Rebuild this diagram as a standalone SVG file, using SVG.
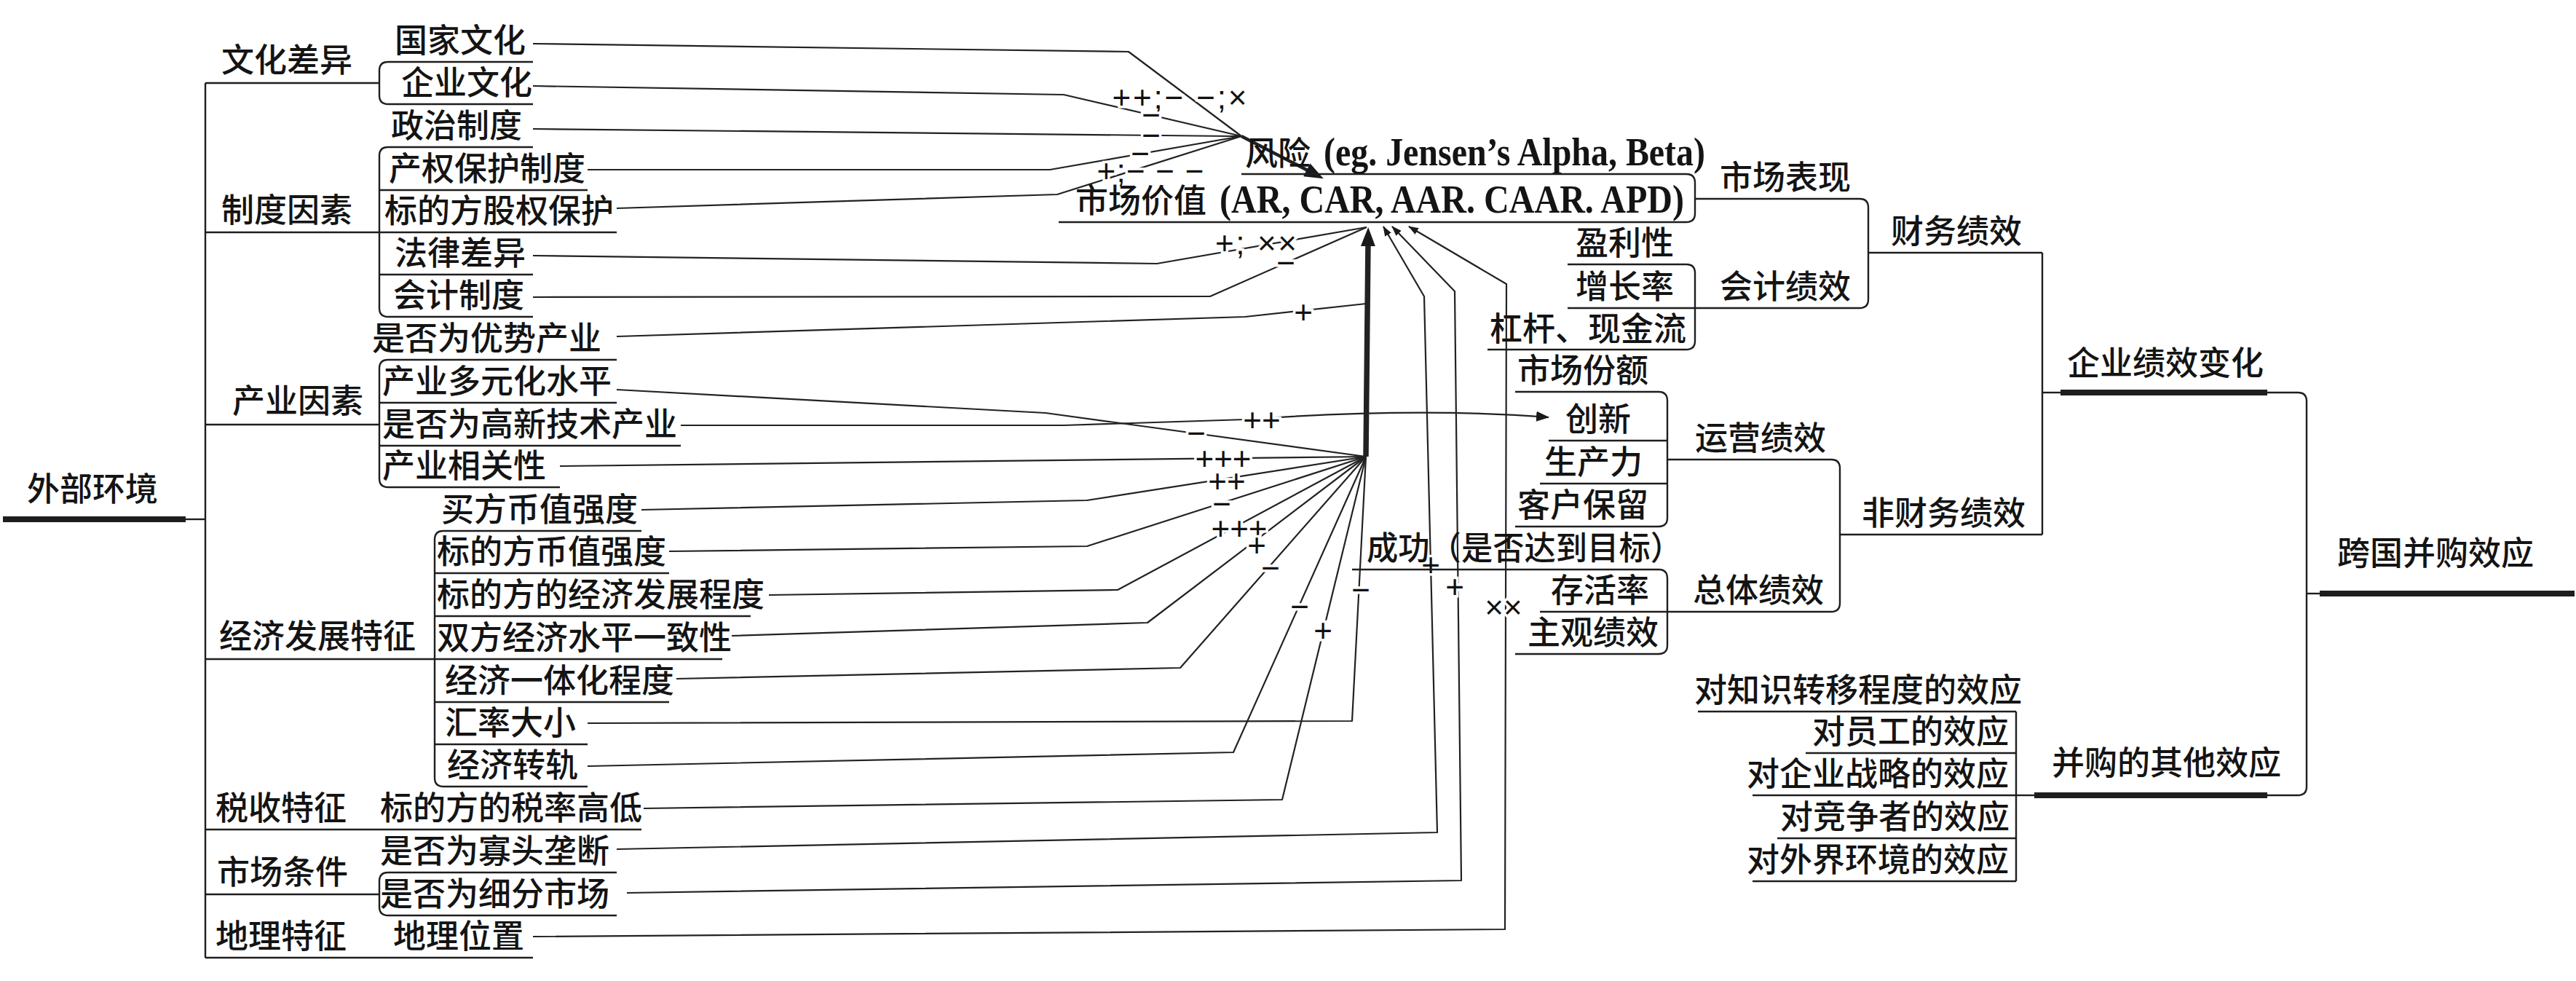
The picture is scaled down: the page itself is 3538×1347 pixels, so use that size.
<svg xmlns="http://www.w3.org/2000/svg" width="3538" height="1347" viewBox="0 0 3538 1347">
<style>
.t{font-family:"Noto Sans CJK SC","Noto Sans",sans-serif;font-size:45px;font-weight:500;fill:#141414}
.lat{font-family:"Liberation Serif","Noto Sans CJK SC",serif;font-weight:bold;font-size:54px;fill:#141414}
.ln{stroke:#1e1e1e;stroke-width:2.4;fill:none}
.thk{stroke:#1e1e1e;stroke-width:8;fill:none}
.c{stroke:#222;stroke-width:2.2;fill:none;stroke-linejoin:round}
.lbl{font-family:"Liberation Sans",sans-serif;font-size:44px;fill:#111;stroke:#fff;stroke-width:7;paint-order:stroke;text-anchor:middle}
</style>
<defs>
<marker id="arr" markerUnits="userSpaceOnUse" markerWidth="18" markerHeight="14" refX="17" refY="7" orient="auto"><path d="M0,0 L18,7 L0,14 z" fill="#1a1a1a"/></marker>
<marker id="arrS" markerUnits="userSpaceOnUse" markerWidth="14" markerHeight="10" refX="13" refY="5" orient="auto"><path d="M0,0 L14,5 L0,10 z" fill="#1a1a1a"/></marker>
<marker id="arrB" markerUnits="userSpaceOnUse" markerWidth="26" markerHeight="20" refX="6" refY="10" orient="auto"><path d="M0,0 L26,10 L0,20 z" fill="#1a1a1a"/></marker>
</defs>
<rect width="3538" height="1347" fill="#fff"/>

<g id="connectors">
<path class="c" d="M732,60 L1550,71 L1705,187"/>
<path class="c" d="M732,118 L1461,130 L1705,187"/>
<path class="c" d="M732,177 L1690,187 L1705,187"/>
<path class="c" d="M807,233 L1442,233 L1705,187"/>
<path class="c" d="M847,286 L1452,267 L1705,187"/>
<path class="c" d="M1705,187 L1800,236" style="stroke-width:4.5" marker-end="url(#arrB)"/>
<path class="c" d="M732,351 L1589,362 L1877,312"/>
<path class="c" d="M732,408 L1662,407 L1877,312"/>
<path class="c" d="M847,462 L1710,435 L1876,417"/>
<path class="c" d="M847,535 L1436,567 L1876,627"/>
<path class="c" d="M935,584 L1461,584 L1710,576 C1850,566 2000,563 2127,573" marker-end="url(#arr)"/>
<path class="c" d="M769,640 L1876,627"/>
<path class="c" d="M881,700 L1493,687 L1876,627"/>
<path class="c" d="M919,757 L1493,750 L1876,627"/>
<path class="c" d="M1056,817 L1535,810 L1876,627"/>
<path class="c" d="M1005,873 L1576,855 L1876,627"/>
<path class="c" d="M929,932 L1621,917 L1876,627"/>
<path class="c" d="M807,993 L1857,990 L1876,627"/>
<path class="c" d="M807,1052 L1694,1033 L1876,627"/>
<path class="c" d="M884,1110 L1761,1098 L1876,627"/>
<path class="c" d="M1876,627 L1879,332" style="stroke-width:7.5" marker-end="url(#arrB)"/>
<path class="c" d="M847,1166 L1974,1143 L1956,407 L1900,311" marker-end="url(#arrS)"/>
<path class="c" d="M861,1226 L2007,1209 L1998,400 L1912,311" marker-end="url(#arrS)"/>
<path class="c" d="M732,1286 L2067,1276 L2069,390 L1935,311" marker-end="url(#arrS)"/>
</g>

<g id="labels">
<text class="lbl" x="1620" y="149" textLength="185" lengthAdjust="spacing">++;− −;×</text>
<text class="lbl" x="1581" y="173">−</text>
<text class="lbl" x="1581" y="201">−</text>
<text class="lbl" x="1566" y="226">−</text>
<text class="lbl" x="1580" y="250" textLength="147" lengthAdjust="spacing">+;− − −</text>
<text class="lbl" x="1725" y="349" textLength="112" lengthAdjust="spacing">+; ××</text>
<text class="lbl" x="1766" y="376">−</text>
<text class="lbl" x="1790" y="444">+</text>
<text class="lbl" x="1643" y="610">−</text>
<text class="lbl" x="1733" y="592">++</text>
<text class="lbl" x="1680" y="645">+++</text>
<text class="lbl" x="1685" y="676">++</text>
<text class="lbl" x="1678" y="707">−</text>
<text class="lbl" x="1702" y="741">+++</text>
<text class="lbl" x="1726" y="764">+</text>
<text class="lbl" x="1745" y="795">−</text>
<text class="lbl" x="1869" y="825">−</text>
<text class="lbl" x="1785" y="848">−</text>
<text class="lbl" x="1817" y="881">+</text>
<text class="lbl" x="1965" y="791">+</text>
<text class="lbl" x="1998" y="821">+</text>
<text class="lbl" x="2065" y="849">××</text>
</g>

<g id="n-waibu">
<text class="t" x="37" y="688">外部环境</text>
<line class="thk" x1="4" y1="713" x2="255" y2="713"/>
<line class="ln" x1="255" y1="713" x2="282" y2="713"/>
<line class="ln" x1="282" y1="114" x2="282" y2="1315"/>
</g>
<g id="n-wenhua">
<text class="t" x="304" y="99">文化差异</text>
<line class="ln" x1="282" y1="114" x2="521" y2="114"/>
<path class="ln" d="M533,85 Q521,85 521,97 L521,131 Q521,143 533,143"/>
</g>
<g id="n-zhidu">
<text class="t" x="304" y="305">制度因素</text>
<line class="ln" x1="282" y1="319" x2="521" y2="319"/>
<path class="ln" d="M533,202 Q521,202 521,214 L521,423 Q521,435 533,435"/>
</g>
<g id="n-chanye">
<text class="t" x="319" y="567">产业因素</text>
<line class="ln" x1="282" y1="583" x2="521" y2="583"/>
<path class="ln" d="M533,494 Q521,494 521,506 L521,657 Q521,669 533,669"/>
</g>
<g id="n-jingji">
<text class="t" x="301" y="890">经济发展特征</text>
<line class="ln" x1="282" y1="905" x2="597" y2="905"/>
<path class="ln" d="M609,729 Q597,729 597,741 L597,1068 Q597,1080 609,1080"/>
</g>
<g id="n-shuishou">
<text class="t" x="296" y="1126">税收特征</text>
<line class="ln" x1="282" y1="1139" x2="521" y2="1139"/>
</g>
<g id="n-shichang">
<text class="t" x="298" y="1214">市场条件</text>
<line class="ln" x1="282" y1="1228" x2="521" y2="1228"/>
<path class="ln" d="M533,1198 Q521,1198 521,1210 L521,1245 Q521,1257 533,1257"/>
</g>
<g id="n-dili">
<text class="t" x="296" y="1302">地理特征</text>
<line class="ln" x1="282" y1="1315" x2="521" y2="1315"/>
</g>

<g id="n-guojiawenhua"><text class="t" x="542" y="72">国家文化</text><line class="ln" x1="533" y1="85" x2="732" y2="85"/></g>
<g id="n-qiyewenhua"><text class="t" x="551" y="130">企业文化</text><line class="ln" x1="533" y1="143" x2="732" y2="143"/></g>
<g id="n-zhengzhi"><text class="t" x="537" y="189">政治制度</text><line class="ln" x1="533" y1="202" x2="732" y2="202"/></g>
<g id="n-chanquan"><text class="t" x="534" y="248">产权保护制度</text><line class="ln" x1="521" y1="261" x2="807" y2="261"/></g>
<g id="n-guquan"><text class="t" x="528" y="306">标的方股权保护</text><line class="ln" x1="521" y1="319" x2="847" y2="319"/></g>
<g id="n-falv"><text class="t" x="542" y="364">法律差异</text><line class="ln" x1="521" y1="377" x2="732" y2="377"/></g>
<g id="n-kuaiji"><text class="t" x="540" y="422">会计制度</text><line class="ln" x1="533" y1="435" x2="732" y2="435"/></g>
<g id="n-youshi"><text class="t" x="511" y="481">是否为优势产业</text><line class="ln" x1="533" y1="494" x2="847" y2="494"/></g>
<g id="n-duoyuan"><text class="t" x="525" y="540">产业多元化水平</text><line class="ln" x1="521" y1="553" x2="847" y2="553"/></g>
<g id="n-gaoxin"><text class="t" x="525" y="599">是否为高新技术产业</text><line class="ln" x1="521" y1="612" x2="935" y2="612"/></g>
<g id="n-xiangguan"><text class="t" x="525" y="656">产业相关性</text><line class="ln" x1="533" y1="669" x2="769" y2="669"/></g>
<g id="n-maifang"><text class="t" x="606" y="716">买方币值强度</text><line class="ln" x1="609" y1="729" x2="881" y2="729"/></g>
<g id="n-bidibizhi"><text class="t" x="600" y="774">标的方币值强度</text><line class="ln" x1="597" y1="787" x2="919" y2="787"/></g>
<g id="n-fazhan"><text class="t" x="600" y="833">标的方的经济发展程度</text><line class="ln" x1="597" y1="846" x2="1031" y2="846"/></g>
<g id="n-yizhi"><text class="t" x="600" y="892">双方经济水平一致性</text><line class="ln" x1="597" y1="905" x2="992" y2="905"/></g>
<g id="n-yitihua"><text class="t" x="611" y="951">经济一体化程度</text><line class="ln" x1="597" y1="964" x2="919" y2="964"/></g>
<g id="n-huilv"><text class="t" x="611" y="1009">汇率大小</text><line class="ln" x1="597" y1="1022" x2="807" y2="1022"/></g>
<g id="n-zhuangui"><text class="t" x="614" y="1067">经济转轨</text><line class="ln" x1="609" y1="1080" x2="807" y2="1080"/></g>
<g id="n-shuilv"><text class="t" x="522" y="1126">标的方的税率高低</text><line class="ln" x1="521" y1="1139" x2="881" y2="1139"/></g>
<g id="n-guatou"><text class="t" x="522" y="1185">是否为寡头垄断</text><line class="ln" x1="533" y1="1198" x2="847" y2="1198"/></g>
<g id="n-xifen"><text class="t" x="522" y="1244">是否为细分市场</text><line class="ln" x1="533" y1="1257" x2="847" y2="1257"/></g>
<g id="n-weizhi"><text class="t" x="540" y="1302">地理位置</text><line class="ln" x1="521" y1="1315" x2="732" y2="1315"/></g>

<g id="n-fengxian">
<text class="t" x="1710" y="227">风险</text>
<text class="lat" x="1818" y="227" textLength="524" lengthAdjust="spacingAndGlyphs">(eg. Jensen’s Alpha, Beta)</text>
<line class="ln" x1="1705" y1="239" x2="2316" y2="239"/>
</g>
<g id="n-shichangjiazhi">
<text class="t" x="1477" y="292">市场价值</text>
<text class="lat" x="1675" y="292" textLength="638" lengthAdjust="spacingAndGlyphs">(AR, CAR, AAR. CAAR. APD)</text>
<line class="ln" x1="1454" y1="305" x2="2316" y2="305"/>
</g>
<g id="n-shichangbiaoxian">
<text class="t" x="2362" y="260">市场表现</text>
<path class="ln" d="M2316,239 Q2328,239 2328,251 L2328,293 Q2328,305 2316,305"/>
<line class="ln" x1="2328" y1="273" x2="2554" y2="273"/>
</g>
<g id="n-yingli"><text class="t" x="2164" y="350">盈利性</text><line class="ln" x1="2153" y1="363" x2="2316" y2="363"/></g>
<g id="n-zengzhang"><text class="t" x="2164" y="410">增长率</text><line class="ln" x1="2153" y1="423" x2="2328" y2="423"/></g>
<g id="n-ganggan"><text class="t" x="2046" y="468">杠杆、现金流</text><line class="ln" x1="2043" y1="480" x2="2316" y2="480"/></g>
<g id="n-kuaijijixiao">
<text class="t" x="2362" y="410">会计绩效</text>
<path class="ln" d="M2316,363 Q2328,363 2328,375 L2328,468 Q2328,480 2316,480"/>
<line class="ln" x1="2328" y1="423" x2="2554" y2="423"/>
</g>
<g id="n-caiwu">
<text class="t" x="2597" y="334">财务绩效</text>
<path class="ln" d="M2554,273 Q2566,273 2566,285 L2566,411 Q2566,423 2554,423"/>
<line class="ln" x1="2566" y1="347" x2="2805" y2="347"/>
</g>
<g id="n-fene"><text class="t" x="2084" y="525">市场份额</text><line class="ln" x1="2081" y1="538" x2="2278" y2="538"/></g>
<g id="n-chuangxin"><text class="t" x="2150" y="592">创新</text><line class="ln" x1="2127" y1="605" x2="2290" y2="605"/></g>
<g id="n-shengchanli"><text class="t" x="2121" y="651">生产力</text><line class="ln" x1="2115" y1="664" x2="2290" y2="664"/></g>
<g id="n-kehu"><text class="t" x="2084" y="710">客户保留</text><line class="ln" x1="2081" y1="723" x2="2278" y2="723"/></g>
<g id="n-yunying">
<text class="t" x="2328" y="618">运营绩效</text>
<path class="ln" d="M2278,538 Q2290,538 2290,550 L2290,711 Q2290,723 2278,723"/>
<line class="ln" x1="2290" y1="631" x2="2515" y2="631"/>
</g>
<g id="n-chenggong"><text class="t" x="1877" y="769" textLength="433" lengthAdjust="spacingAndGlyphs">成功（是否达到目标）</text><line class="ln" x1="1857" y1="782" x2="2278" y2="782"/></g>
<g id="n-cunhuo"><text class="t" x="2130" y="827">存活率</text><line class="ln" x1="2115" y1="840" x2="2290" y2="840"/></g>
<g id="n-zhuguan"><text class="t" x="2098" y="885">主观绩效</text><line class="ln" x1="2081" y1="898" x2="2278" y2="898"/></g>
<g id="n-zongti">
<text class="t" x="2325" y="827">总体绩效</text>
<path class="ln" d="M2278,782 Q2290,782 2290,794 L2290,886 Q2290,898 2278,898"/>
<line class="ln" x1="2290" y1="840" x2="2515" y2="840"/>
</g>
<g id="n-feicaiwu">
<text class="t" x="2557" y="721">非财务绩效</text>
<path class="ln" d="M2515,631 Q2527,631 2527,643 L2527,828 Q2527,840 2515,840"/>
<line class="ln" x1="2527" y1="734" x2="2805" y2="734"/>
</g>
<g id="n-qiyejixiao">
<text class="t" x="2839" y="515">企业绩效变化</text>
<line class="ln" x1="2805" y1="347" x2="2805" y2="734"/>
<line class="ln" x1="2805" y1="539" x2="2830" y2="539"/>
<line class="thk" x1="2830" y1="539" x2="3114" y2="539"/>
</g>
<g id="n-zhishi"><text class="t" x="2327" y="964">对知识转移程度的效应</text><line class="ln" x1="2332" y1="977" x2="2769" y2="977"/></g>
<g id="n-yuangong"><text class="t" x="2489" y="1021">对员工的效应</text><line class="ln" x1="2480" y1="1034" x2="2769" y2="1034"/></g>
<g id="n-zhanlue"><text class="t" x="2399" y="1079">对企业战略的效应</text><line class="ln" x1="2407" y1="1092" x2="2769" y2="1092"/></g>
<g id="n-jingzheng"><text class="t" x="2445" y="1138">对竞争者的效应</text><line class="ln" x1="2441" y1="1151" x2="2769" y2="1151"/></g>
<g id="n-waijie"><text class="t" x="2399" y="1197">对外界环境的效应</text><line class="ln" x1="2407" y1="1210" x2="2769" y2="1210"/></g>
<g id="n-qita">
<text class="t" x="2818" y="1064">并购的其他效应</text>
<line class="ln" x1="2769" y1="977" x2="2769" y2="1210"/>
<line class="ln" x1="2769" y1="1092" x2="2794" y2="1092"/>
<line class="thk" x1="2794" y1="1092" x2="3114" y2="1092"/>
</g>
<g id="n-root">
<text class="t" x="3210" y="776">跨国并购效应</text>
<path class="ln" d="M3114,539 L3156,539 Q3168,539 3168,551 L3168,1080 Q3168,1092 3156,1092 L3114,1092"/>
<line class="ln" x1="3168" y1="815" x2="3186" y2="815"/>
<line class="thk" x1="3186" y1="815" x2="3536" y2="815"/>
</g>
</svg>
